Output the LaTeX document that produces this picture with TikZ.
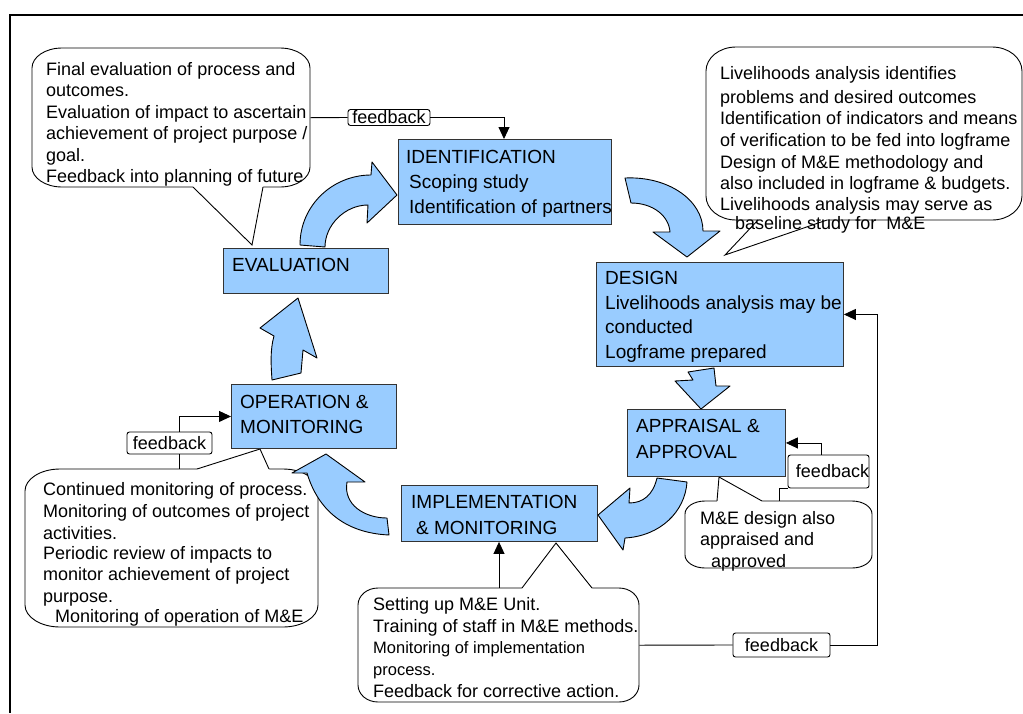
\documentclass[tikz,border=0pt]{standalone}
\usepackage{fontspec}
\setmainfont{Liberation Sans}
\usetikzlibrary{arrows.meta,calc}
\definecolor{lblue}{HTML}{99CCFF}
\newcommand\bubble[6]{%
 \draw[bub] ({#1+#5},#2) -- ({#3-#5},#2)
  .. controls ({#3-0.448*#5},#2) and (#3,{#2+0.448*#6}) .. (#3,{#2+#6})
  -- (#3,{#4-#6})
  .. controls (#3,{#4-0.448*#6}) and ({#3-0.448*#5},#4) .. ({#3-#5},#4)
  -- ({#1+#5},#4)
  .. controls ({#1+0.448*#5},#4) and (#1,{#4-0.448*#6}) .. (#1,{#4-#6})
  -- (#1,{#2+#6})
  .. controls (#1,{#2+0.448*#6}) and ({#1+0.448*#5},#2) .. ({#1+#5},#2) -- cycle;}
\newcommand\tail[7]{%
 \fill[white] (#1,{#2+#7}) -- (#1,#2) -- (#3,#4) -- (#5,#6) -- (#5,{#6+#7}) -- cycle;
 \draw[conn] (#1,#2) -- (#3,#4) -- (#5,#6);}
\begin{document}
\begin{tikzpicture}[x=1pt,y=-1pt,
 stage/.style={draw=black!80, fill=lblue, line width=0.9pt, inner sep=0, anchor=north west},
 bub/.style={draw=black, fill=white, line width=0.9pt},
 blk/.style={draw=black, fill=lblue, line width=0.9pt, line join=round},
 fbk/.style={draw=black, fill=white, rounded corners=2.5pt, line width=0.9pt, inner sep=0, font=\fontsize{18}{18}\selectfont},
 conn/.style={draw=black, line width=0.9pt},
 tri/.style={-{Triangle[length=12pt,width=11pt]}},
 btxt/.style={anchor=base west, inner sep=0, font=\fontsize{19}{19}\selectfont},
 ctxt/.style={anchor=base west, inner sep=0, font=\fontsize{18}{18}\selectfont},
 stxt/.style={anchor=base west, inner sep=0, font=\fontsize{16.5}{16.5}\selectfont},
 hole/.style={inner sep=0, anchor=north west},
]
\useasboundingbox (0,0) rectangle (1023,713);
\fill[white] (0,0) rectangle (1023,713);
\draw[line width=2pt] (1023,15) -- (10,15) -- (10,713);

% ---- callouts
\node[hole, minimum width=278, minimum height=139] (evalc) at (32,48) {};
\bubble{32}{48}{310}{187}{30}{20}
\tail{193}{187}{252}{245}{263}{187}{-2}
\foreach \yy/\myline [count=\i] in {75/Final evaluation of process and, 96.5/outcomes., 118/Evaluation of impact to ascertain, 139.5/{achievement of project purpose /}, 161/goal., 182/Feedback into planning of future}
  \node[ctxt] (evt\i) at (46,\yy) {\myline};

\node[hole, minimum width=316, minimum height=173] (designc) at (706,47) {};
\bubble{706}{47}{1022}{220}{30}{24}
\tail{758}{220}{725}{255}{827}{220}{-2}
\foreach \yy/\myline [count=\i] in {79/Livelihoods analysis identifies, 103/problems and desired outcomes, 124/Identification of indicators and means, 146/of verification to be fed into logframe, 168/Design of M\&E methodology and, 189/also included in logframe \& budgets., 210/Livelihoods analysis may serve as}
  \node[ctxt] (dst\i) at (720,\yy) {\myline};
\node[ctxt] (dst8) at (735,229) {baseline study for\ \ M\&E};

\node[hole, minimum width=293, minimum height=158] (opc) at (25,469) {};
\bubble{25}{469}{318}{627}{35}{22}
\tail{197}{469}{260}{449}{269}{469}{2}
\foreach \yy/\myline [count=\i] in {495/Continued monitoring of process., 517/Monitoring of outcomes of project, 539/activities., 559/Periodic review of impacts to, 580/monitor achievement of project, 602/purpose.}
  \node[ctxt] (opt\i) at (43,\yy) {\myline};
\node[ctxt] (opt7) at (55,622) {Monitoring of operation of M\&E};

\node[hole, minimum width=281, minimum height=114] (implc) at (358,588) {};
\bubble{358}{588}{639}{702}{20}{17}
\tail{522}{588}{556}{543}{592}{588}{2}
\node[ctxt] (imt1) at (373,610) {Setting up M\&E Unit.};
\node[ctxt] (imt2) at (373,632) {Training of staff in M\&E methods.};
\node[stxt] (imt3) at (373,653) {Monitoring of implementation};
\node[stxt] (imt4) at (373,675) {process.};
\node[ctxt] (imt5) at (373,697) {Feedback for corrective action.};

\node[hole, minimum width=187, minimum height=67] (mec) at (685,501) {};
\bubble{685}{501}{872}{568}{20}{13}
\tail{717}{501}{719}{477}{762}{501}{2}
\node[ctxt] (met1) at (700,524) {M\&E design also};
\node[ctxt] (met2) at (700,545) {appraised and};
\node[ctxt] (met3) at (711,567) {approved};

% ---- stage boxes
\node[stage, minimum width=213, minimum height=85] (ident) at (398,139) {};
\node[btxt] (idt1) at (406,163) {IDENTIFICATION};
\node[btxt] (idt2) at (409,188.5) {Scoping study};
\node[btxt] (idt3) at (409,213) {Identification of partners};

\node[stage, minimum width=165, minimum height=45] (eval) at (223,248) {};
\node[btxt] (evt) at (232,271) {EVALUATION};

\node[stage, minimum width=247, minimum height=104] (design) at (596,262) {};
\node[btxt] (det1) at (605,284) {DESIGN};
\node[btxt] (det2) at (605,309) {Livelihoods analysis may be};
\node[btxt] (det3) at (605,333) {conducted};
\node[btxt] (det4) at (605,358) {Logframe prepared};

\node[stage, minimum width=158, minimum height=67] (appr) at (627,409) {};
\node[btxt] (apt1) at (636,432) {APPRAISAL \&};
\node[btxt] (apt2) at (636,458) {APPROVAL};

\node[stage, minimum width=196, minimum height=56] (impl) at (401,485) {};
\node[btxt] (ipt1) at (411,508) {IMPLEMENTATION};
\node[btxt] (ipt2) at (416,534) {\& MONITORING};

\node[stage, minimum width=165, minimum height=64] (op) at (231,384) {};
\node[btxt] (omt1) at (240,408) {OPERATION \&};
\node[btxt] (omt2) at (240,433) {MONITORING};

% ---- block arrows
\draw[blk] (300,245) .. controls (300,205) and (333,175) .. (371,175) -- (372,162) -- (397,195) -- (367,223) -- (368,205) .. controls (345,205) and (325,225) .. (325,247) -- cycle;
\draw[blk] (625,178) .. controls (668,176) and (703,200) .. (703,231) -- (720,231) -- (687,257) -- (653,232) -- (670,232) .. controls (669,216) and (653,203) .. (631,203) -- cycle;
\draw[blk] (688,372) -- (714,368) -- (716,386) -- (730,386) -- (701,409) -- (675,381) -- (693,380) -- cycle;
\draw[blk] (657,478) .. controls (653,495) and (643,503) .. (629,503) -- (630,488) -- (598,515) -- (623,550) -- (625,538) .. controls (660,536) and (685,512) .. (687,482) -- cycle;
\draw[blk] (326,454) -- (365,482) -- (347,482) .. controls (343,505) and (365,518) .. (387,518) -- (389,535) .. controls (345,533) and (318,510) .. (307,473) -- (292,473) -- cycle;
\draw[blk] (272,380) -- (301,373) -- (303,350) -- (317,358) -- (298,298) -- (260,328) -- (274,336) .. controls (270,350) and (271,365) .. (272,380) -- cycle;

% ---- feedback labels
\node[fbk, minimum width=82, minimum height=16] (fb1) at (389,117.5) {feedback};
\node[fbk, minimum width=81, minimum height=33] (fb2) at (828.5,471.5) {\hspace*{8pt}feedback};
\node[fbk, minimum width=85, minimum height=22] (fb3) at (169.5,443) {feedback};
\node[fbk, minimum width=97, minimum height=24] (fb4) at (781.5,645) {feedback};

% ---- connectors
\coordinate (identin) at ($(ident.north west)+(106,0)$);
\draw[conn] (evalc.east) -- (fb1.west);
\draw[conn,tri] (fb1.east) -| (identin);

\draw[conn] (implc.east) -- (fb4.west);
\draw[conn,tri] (fb4.east) -- ++(47,0) |- (design.east);

\coordinate (fb2a) at ($(fb2.north west)+(34,0)$);
\draw[conn,tri] (fb2a) |- (appr.east);
\draw[conn] ($(mec.north west)+(94,0)$) |- (fb2.south west);

\coordinate (fb3a) at ($(fb3.north west)+(53,0)$);
\coordinate (fb3b) at ($(fb3.south west)+(53,0)$);
\draw[conn,tri] (fb3a) |- (op.west);
\draw[conn] (fb3b) -- (fb3b |- opc.north);

\coordinate (implin) at ($(impl.south west)+(98,0)$);
\draw[conn,tri] (implin |- implc.north) -- (implin);
\end{tikzpicture}
\end{document}
